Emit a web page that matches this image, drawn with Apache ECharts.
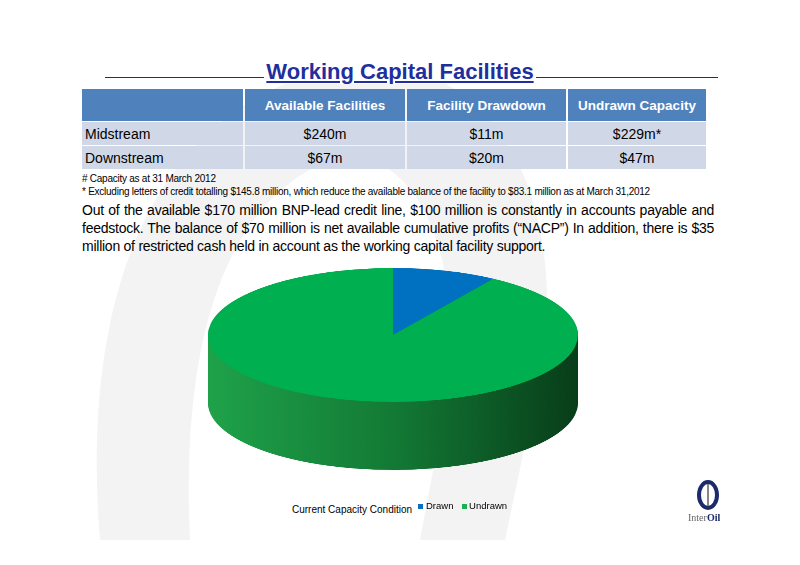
<!DOCTYPE html>
<html><head><meta charset="utf-8">
<script src="https://cdn.jsdelivr.net/npm/echarts@6/dist/echarts.min.js"></script>
<style>
body{margin:0;width:800px;height:565px;position:relative;overflow:hidden;background:#fff;font-family:"Liberation Sans",Arial,sans-serif}
.abs{position:absolute}
table{border-collapse:separate;border-spacing:2px 1px;font-size:14px}
td{height:23px;text-align:center;padding:0}
</style></head><body>
<svg class="abs" style="left:0;top:0" width="800" height="565">
<path d="M100 540 C80 300 150 110 330 70 C500 40 560 200 545 350 L505 540 Z" fill="#f3f3f3"/>
<path d="M190 540 C180 330 230 200 330 160 C420 140 460 260 450 380 L420 540 Z" fill="#fff"/>
</svg>
<div class="abs" style="left:105px;top:77px;width:613px;height:1px;background:#1f2a80"></div>
<div class="abs" style="left:0;width:800px;top:59px;text-align:center;font-size:22px;font-weight:bold;color:#1f2f9e"><span style="background:#fff;padding:0 2px;text-decoration:underline">Working Capital Facilities</span></div>
<div class="abs" id="tbl" style="left:80px;top:88px"></div>
<div class="abs" style="left:82px;top:173px;font-size:10px;line-height:12.5px;letter-spacing:-0.25px">
# Capacity as at 31 March 2012<br>* Excluding letters of credit totalling $145.8 million, which reduce the available balance of the facility to $83.1 million as at March 31,2012</div>
<div class="abs" style="left:82px;top:201px;width:632px;font-size:14px;line-height:18px;text-align:justify;letter-spacing:-0.25px">Out of the available $170 million BNP-lead credit line, $100 million is constantly in accounts payable and feedstock. The balance of $70 million is net available cumulative profits (“NACP”) In addition, there is $35 million of restricted cash held in account as the working capital facility support.</div>
<div class="abs" id="pie" style="left:0;top:260px;width:800px;height:608px;transform:scaleY(0.362);transform-origin:0 0"></div>
<div class="abs" style="left:292px;top:504px;font-size:10px">Current Capacity Condition</div>
<div class="abs" style="left:418px;top:500px;font-size:9.5px"><span style="display:inline-block;width:5px;height:5px;background:#0a6ec2;margin-right:3px"></span>Drawn <span style="display:inline-block;width:5px;height:5px;background:#1db04f;margin:0 2px 0 6px"></span>Undrawn</div>
<div class="abs" style="left:697px;top:480px;width:22px;height:30px;border:4px solid #1b2a6b;border-radius:50%;box-sizing:border-box"></div>
<div class="abs" style="left:707px;top:484px;width:2px;height:22px;background:#888"></div>
<div class="abs" style="left:688px;top:512px;font-size:10px;font-family:'Liberation Serif',serif;color:#666">Inter<b style="color:#1b2a6b">Oil</b></div>
<script>
const headers=["","Available Facilities","Facility Drawdown","Undrawn Capacity"];
const rowNames=["Midstream","Downstream"];
const available=["$240m","$67m"];
const drawdown=["$11m","$20m"];
const undrawn=["$229m*","$47m"];
const pieLabels=["Drawn","Undrawn"];
const pieValues=[28,279];
const widths=[161,160,159,138];
let h='<table><tr>'+headers.map((t,i)=>`<td style="width:${widths[i]}px;height:32px;background:#4f81bd;color:#fff;font-weight:bold;font-size:13.5px">${t}</td>`).join('')+'</tr>';
rowNames.forEach((r,i)=>{h+=`<tr><td style="background:#d0d8e8;text-align:left;padding-left:3px">${r}</td><td style="background:#d0d8e8">${available[i]}</td><td style="background:#d0d8e8">${drawdown[i]}</td><td style="background:#d0d8e8">${undrawn[i]}</td></tr>`;});
document.getElementById('tbl').innerHTML=h+'</table>';
const chart=echarts.init(document.getElementById('pie'));
const cx=393,cy=207,R=185,depth=188,layers=48;
const sideGreen={type:'linear',x:0,y:0,x2:1,y2:0,colorStops:[{offset:0,color:'#1fa24a'},{offset:0.5,color:'#137a35'},{offset:1,color:'#083d19'}]};
const sideBlue={type:'linear',x:0,y:0,x2:1,y2:0,colorStops:[{offset:0,color:'#0b5fa8'},{offset:1,color:'#06406f'}]};
const series=[];
for(let k=layers;k>=1;k--){
  series.push({type:'pie',silent:true,animation:false,startAngle:90,radius:R,center:[cx,cy+depth*k/layers],label:{show:false},
    data:pieLabels.map((n,i)=>({name:n,value:pieValues[i],itemStyle:{color:i?sideGreen:sideBlue}}))});
}
series.push({type:'pie',animation:false,startAngle:90,radius:R,center:[cx,cy],label:{show:false},
  data:pieLabels.map((n,i)=>({name:n,value:pieValues[i],itemStyle:{color:i?'#00b050':'#0070c0'}}))});
chart.setOption({series});
</script></body></html>
